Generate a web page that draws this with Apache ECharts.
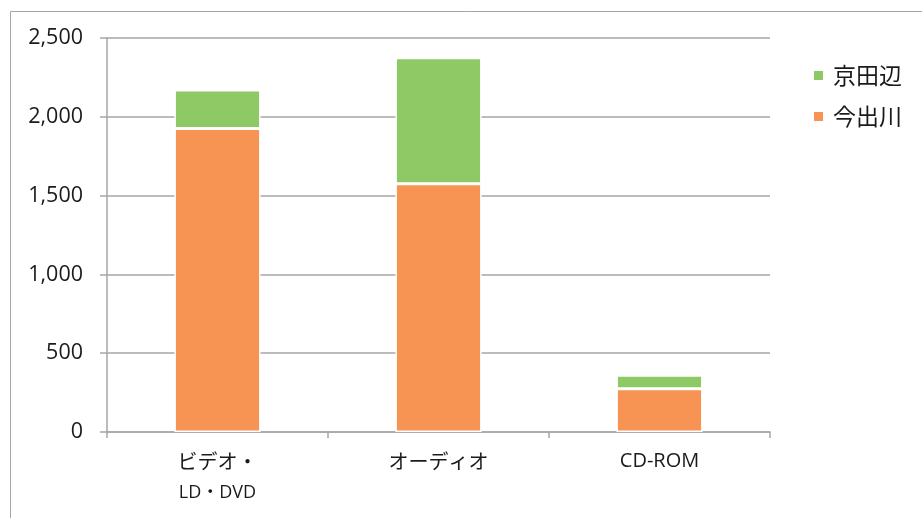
<!DOCTYPE html>
<html><head><meta charset="utf-8">
<script src="https://cdn.jsdelivr.net/npm/echarts@6/dist/echarts.min.js"></script>
<style>html,body{margin:0;padding:0;background:#fff}#c{width:922px;height:518px}</style>
</head><body><div id="c"></div>
<script>
const categories = ['ビデオ・\nLD・DVD', 'オーディオ', 'CD-ROM'];
const imadegawa = [1925, 1575, 275];
const kyotanabe = [245, 800, 85];
const yTicks = [0, 500, 1000, 1500, 2000, 2500];

const chart = echarts.init(document.getElementById('c'));
const jpFont = '"Noto Sans CJK JP", "Noto Sans", sans-serif';
const enFont = '"Open Sans", "Noto Sans CJK JP", sans-serif';
chart.setOption({
  animation: false,
  backgroundColor: '#fff',
  graphic: [{
    type: 'rect', left: 8, top: 9,
    shape: { width: 930, height: 520 },
    style: { fill: 'none', stroke: '#a6a6a6', lineWidth: 1 }
  }],
  grid: { left: 107, right: 152, top: 38, bottom: 86 },
  legend: {
    orient: 'vertical', left: 807, top: 58,
    itemWidth: 11, itemHeight: 11, itemGap: 16,
    icon: 'rect',
    data: ['京田辺', '今出川'],
    textStyle: { fontSize: 23, lineHeight: 25, color: '#1a1a1a', fontFamily: jpFont, padding: [0, 0, 0, 4] }
  },
  xAxis: {
    type: 'category', data: categories,
    axisLine: { lineStyle: { color: '#a6a6a6', width: 1.5 } },
    axisTick: { show: true, length: 6, lineStyle: { color: '#a6a6a6', width: 1.5 } },
    axisLabel: {
      margin: 14, color: '#1a1a1a', lineHeight: 31,
      formatter: function (v) {
        return v.split('\n').map(function (s) {
          if (!/[A-Z]/.test(s)) return '{jp|' + s + '}';
          return s.indexOf('・') >= 0 ? '{en2|' + s + '}' : '{en|' + s + '}';
        }).join('\n');
      },
      rich: {
        jp: { fontSize: 20, color: '#1a1a1a', fontFamily: jpFont, lineHeight: 31 },
        en: { fontSize: 20, color: '#1a1a1a', fontFamily: enFont, lineHeight: 31 },
        en2: { fontSize: 18, color: '#1a1a1a', fontFamily: enFont, lineHeight: 31 }
      }
    }
  },
  yAxis: {
    type: 'value', min: 0, max: 2500, interval: 500,
    axisLine: { show: true, lineStyle: { color: '#a6a6a6', width: 1.5 } },
    axisTick: { show: true, inside: false, length: 7, lineStyle: { color: '#a6a6a6', width: 1.5 } },
    splitLine: { lineStyle: { color: '#a6a6a6', width: 1.5 } },
    axisLabel: {
      margin: 24, fontSize: 21.5, color: '#1a1a1a', fontFamily: enFont,
      formatter: function (v) { return v.toLocaleString('en-US'); }
    }
  },
  series: [
    { name: '今出川', type: 'bar', stack: 'a', data: imadegawa, barWidth: '39%',
      itemStyle: { color: '#F79353', borderColor: '#fff', borderWidth: 1.5 } },
    { name: '京田辺', type: 'bar', stack: 'a', data: kyotanabe, barWidth: '39%',
      itemStyle: { color: '#8FC965', borderColor: '#fff', borderWidth: 1.5 } }
  ]
});
</script></body></html>
